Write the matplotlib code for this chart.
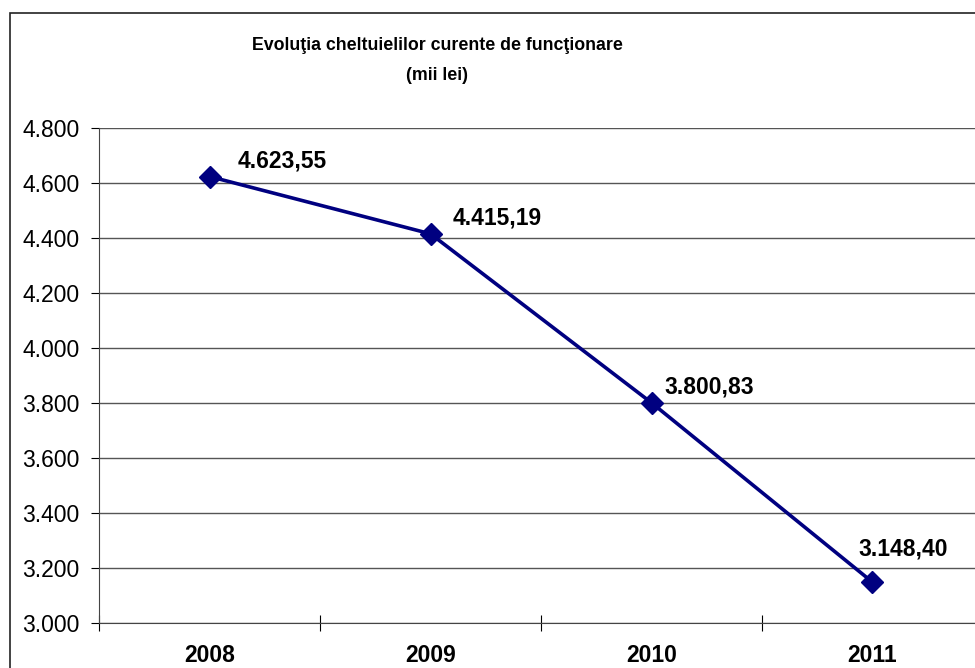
import matplotlib.pyplot as plt
from matplotlib.patches import Rectangle
from matplotlib.ticker import FixedLocator, FuncFormatter

years = ['2008', '2009', '2010', '2011']
cheltuieli = [4623.55, 4415.19, 3800.83, 3148.40]
value_labels = ['4.623,55', '4.415,19', '3.800,83', '3.148,40']
y_ticks = [3000, 3200, 3400, 3600, 3800, 4000, 4200, 4400, 4600, 4800]

plt.rcParams['font.family'] = ['Liberation Sans', 'DejaVu Sans']

W, H = 975, 668
fig = plt.figure(figsize=[W / 100, H / 100], dpi=100)

# chart outer border (runs off the right and bottom of the picture)
fig.patches.append(Rectangle((10 / W, -0.05), 1.1, (H - 13) / H + 0.05,
                             transform=fig.transFigure, fill=False,
                             edgecolor='#222222', linewidth=1.2))

ax = fig.add_axes([99 / W, (H - 623) / H, (983 - 99) / W, (623 - 128) / H])

x = list(range(len(years)))
ax.plot(x, cheltuieli, color='#000080', linewidth=2.6, marker='D',
        markersize=11, zorder=3)

# label offsets in points (left edge / vertical centre relative to the point)
label_offsets = [(20, 11), (16, 11.5), (9, 11), (-10, 24)]
for xi, yi, lab, off in zip(x, cheltuieli, value_labels, label_offsets):
    ax.annotate(lab, (xi, yi), xytext=off, textcoords='offset points',
                ha='left', va='center', fontsize=16.5, fontweight='bold')

ax.set_xlim(-0.5, len(years) - 0.5)
ax.set_ylim(3000, 4800)
ax.set_yticks(y_ticks)
ax.yaxis.set_major_formatter(FuncFormatter(lambda v, p: f'{int(v):,}'.replace(',', '.')))
ax.tick_params(axis='y', labelsize=16.5, length=6, width=0.8, pad=8,
               direction='out')

ax.xaxis.set_major_locator(FixedLocator([i - 0.5 for i in range(len(years) + 1)]))
ax.xaxis.set_minor_locator(FixedLocator(x))
ax.set_xticklabels([])
ax.set_xticklabels(years, minor=True, fontsize=16.5, fontweight='bold')
ax.tick_params(axis='x', which='major', direction='inout', length=12, width=0.8)
ax.tick_params(axis='x', which='minor', length=0, pad=15)

ax.grid(axis='y', color='#555555', linewidth=1)
ax.set_axisbelow(True)
for s in ['top', 'right']:
    ax.spines[s].set_visible(False)
ax.spines['left'].set_color('#444444')
ax.spines['bottom'].set_color('#444444')

fig.text(437 / W, 1 - 45 / H, 'Evoluţia cheltuielilor curente de funcţionare',
         ha='center', va='center', fontsize=12.8, fontweight='bold')
fig.text(437 / W, 1 - 75 / H, '(mii lei)', ha='center', va='center',
         fontsize=12.8, fontweight='bold')

fig.savefig('out.png', dpi=100)
plt.close(fig)
